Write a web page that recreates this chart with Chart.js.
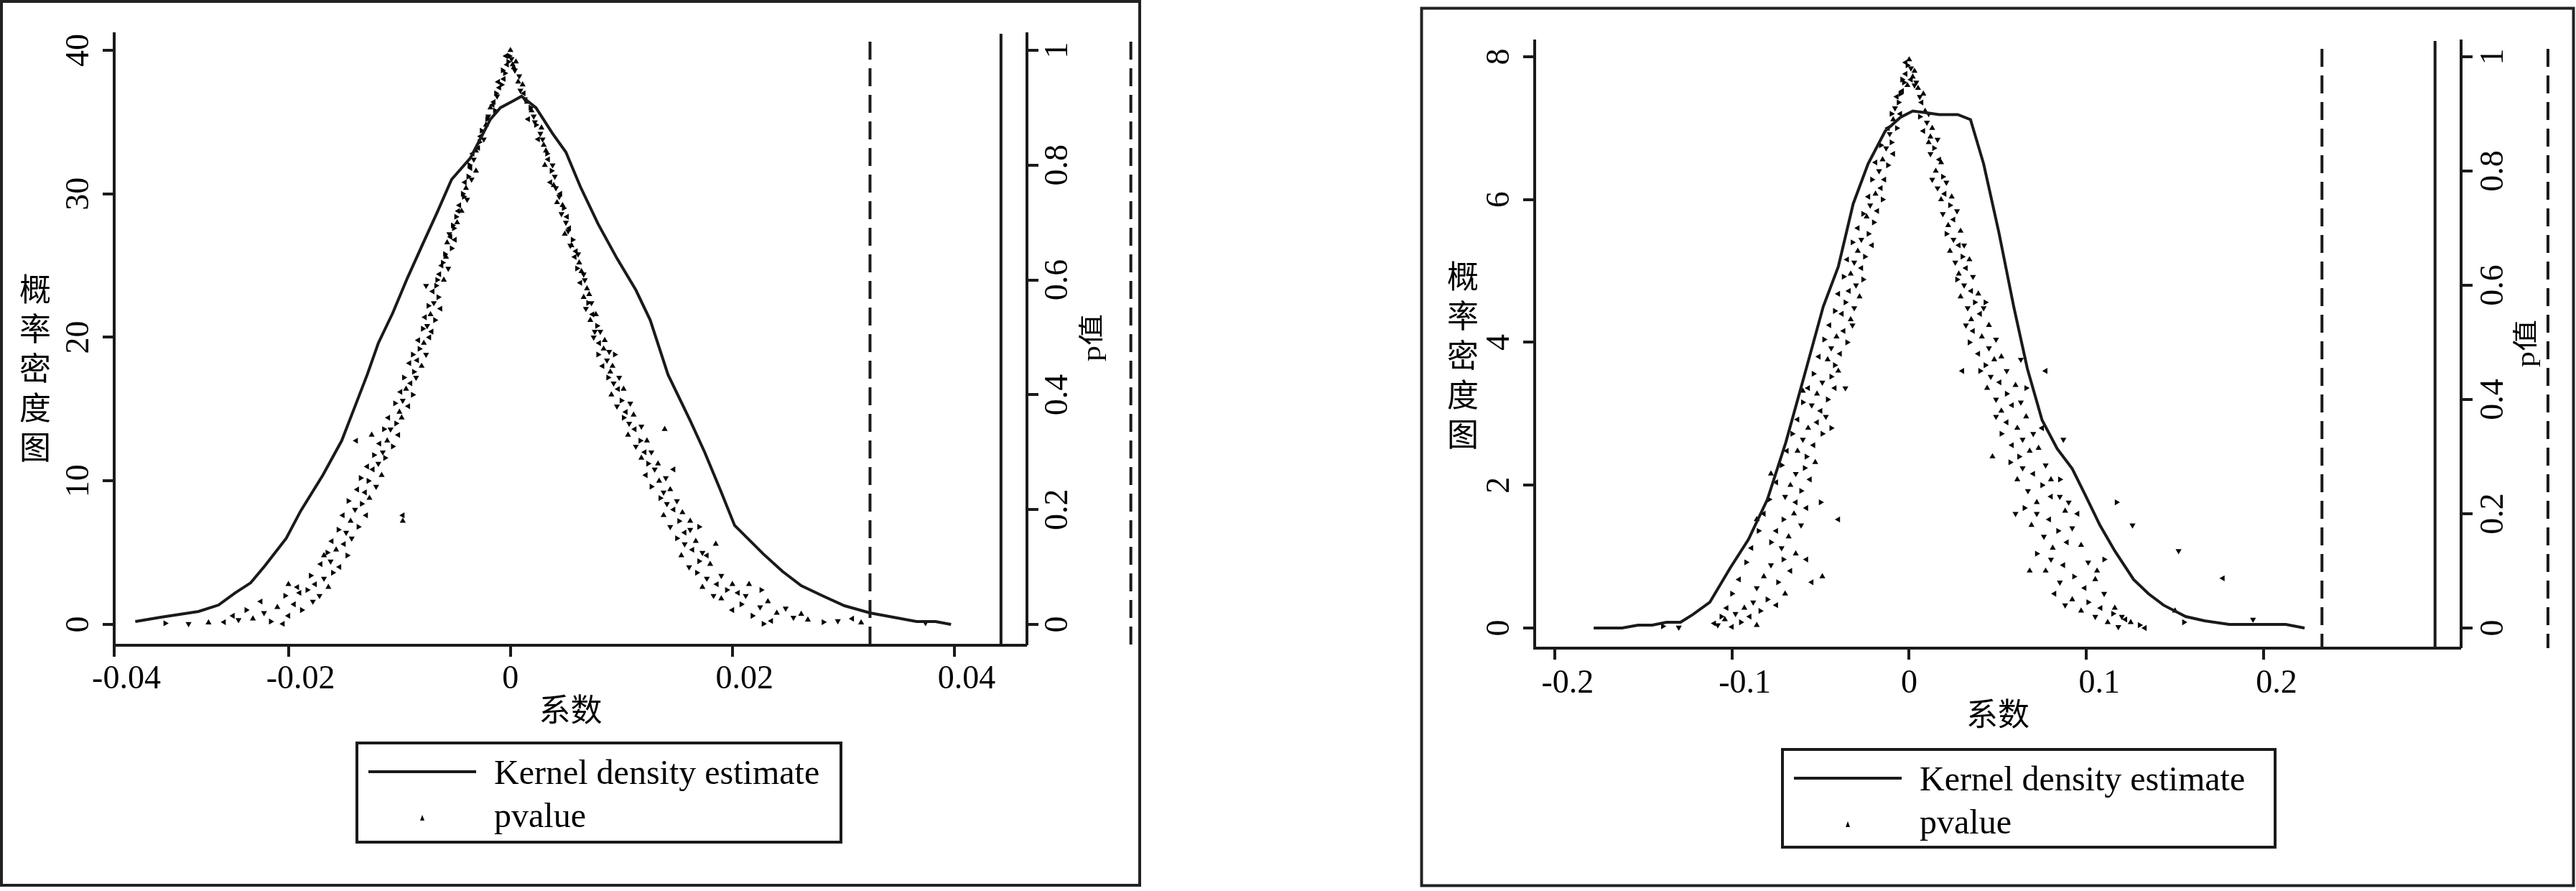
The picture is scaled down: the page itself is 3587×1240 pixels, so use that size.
<!DOCTYPE html>
<html>
<head>
<meta charset="utf-8">
<script src="https://cdn.jsdelivr.net/npm/chart.js@4/dist/chart.umd.min.js"></script>
<style>
  html, body { margin: 0; padding: 0; background: #fff; }
  body { width: 3587px; height: 1240px; position: relative; overflow: hidden; }
  canvas { position: absolute; top: 0; }
</style>
</head>
<body>
<canvas id="left" width="1590" height="1240" style="left:0px"></canvas>
<canvas id="right" width="1612" height="1240" style="left:1975px"></canvas>
<script>
// ================= DATA =================
const seriesLabels = ['Kernel density estimate', 'pvalue'];
const xTitle = '系数';
const yTitle = '概率密度图';
const pTitle = 'p值';

// ---- left panel ----
const xTicksLeft = [-0.04, -0.02, 0, 0.02, 0.04];
const xLabelsLeft = ['-0.04', '-0.02', '0', '0.02', '0.04'];
const yTicksLeft = [0, 10, 20, 30, 40];
const yLabelsLeft = ['0', '10', '20', '30', '40'];
const pTicks = [0, 0.2, 0.4, 0.6, 0.8, 1];
const pLabels = ['0', '0.2', '0.4', '0.6', '0.8', '1'];

const kdeCoefLeft = [-0.0338,-0.0315,-0.0281,-0.0263,-0.0248,-0.0234,-0.0221,-0.0202,-0.0189,-0.0169,-0.0152,-0.0141,-0.0129,-0.0119,-0.0106,-0.0093,-0.0079,-0.0066,-0.0053,-0.0036,-0.0018,-0.0009,0.0003,0.0010,0.0023,0.0038,0.0050,0.0063,0.0079,0.0096,0.0113,0.0126,0.0142,0.0162,0.0175,0.0189,0.0202,0.0215,0.0228,0.0245,0.0262,0.0281,0.0301,0.0324,0.0345,0.0366,0.0383,0.0397];
const kdeDensityLeft = [0.2,0.5,0.9,1.35,2.2,2.9,4.1,6.0,7.9,10.4,12.8,15.0,17.4,19.6,21.7,24.1,26.5,28.7,31.0,32.5,35.2,36.0,36.5,36.8,36.0,34.2,32.9,30.5,27.9,25.5,23.3,21.2,17.4,14.2,12.0,9.4,6.9,5.9,4.9,3.7,2.7,2.0,1.3,0.8,0.5,0.2,0.2,0.0];

const dashedLeft = [0.0324, 0.0559];
const solidLeft = [0.0442];

const pvalueLeft = [
[0.0000,1.00],[-0.0001,0.99],[0.0001,0.985],[-0.0003,0.975],[0.0003,0.97],[-0.0005,0.96],[0.0004,0.965],[-0.0006,0.95],[0.0007,0.945],[-0.0008,0.94],[0.0009,0.93],[-0.0010,0.935],[0.0002,0.975],[-0.0002,0.98],
[-0.0012,0.92],[-0.0015,0.91],[-0.0018,0.90],[-0.0014,0.895],[-0.0020,0.885],[0.0012,0.925],[0.0015,0.91],[0.0018,0.90],[0.0021,0.885],[0.0016,0.88],
[-0.0022,0.87],[-0.0026,0.86],[-0.0024,0.845],[-0.0029,0.83],[-0.0031,0.825],[0.0023,0.87],[0.0027,0.855],[0.0025,0.845],[0.0030,0.835],[0.0033,0.82],
[-0.0033,0.81],[-0.0036,0.795],[-0.0031,0.79],[-0.0038,0.78],[-0.0035,0.775],[0.0034,0.81],[0.0031,0.80],[0.0037,0.79],[0.0040,0.78],[0.0036,0.77],
[-0.0040,0.76],[-0.0043,0.75],[-0.0039,0.74],[-0.0046,0.73],[-0.0044,0.72],[-0.0049,0.71],[0.0041,0.76],[0.0045,0.75],[0.0042,0.735],[0.0048,0.725],[0.0046,0.715],[0.0051,0.71],
[-0.0048,0.70],[-0.0051,0.69],[-0.0055,0.68],[-0.0050,0.67],[-0.0057,0.665],[-0.0053,0.655],[0.0050,0.70],[0.0053,0.69],[0.0049,0.68],[0.0056,0.67],[0.0054,0.66],[0.0059,0.65],
[-0.0058,0.64],[-0.0061,0.63],[-0.0056,0.62],[-0.0064,0.61],[-0.0060,0.60],[-0.0067,0.59],[-0.0076,0.59],[0.0058,0.64],[0.0062,0.63],[0.0060,0.62],[0.0066,0.61],[0.0063,0.595],[0.0069,0.585],
[-0.0065,0.57],[-0.0069,0.56],[-0.0063,0.55],[-0.0072,0.54],[-0.0068,0.53],[-0.0075,0.52],[-0.0071,0.51],[0.0066,0.57],[0.0070,0.56],[0.0068,0.55],[0.0074,0.54],[0.0072,0.53],[0.0078,0.52],[0.0076,0.51],
[-0.0073,0.50],[-0.0078,0.49],[-0.0082,0.48],[-0.0076,0.47],[-0.0084,0.46],[-0.0080,0.45],[-0.0087,0.44],[0.0075,0.50],[0.0080,0.49],[0.0084,0.48],[0.0079,0.47],[0.0087,0.46],[0.0083,0.45],[0.0090,0.44],[0.0094,0.47],
[-0.0085,0.43],[-0.0090,0.42],[-0.0094,0.41],[-0.0088,0.40],[-0.0097,0.39],[-0.0092,0.38],[-0.0100,0.37],[0.0088,0.43],[0.0093,0.42],[0.0097,0.41],[0.0091,0.40],[0.0100,0.39],[0.0096,0.38],[0.0104,0.37],
[-0.0098,0.36],[-0.0103,0.35],[-0.0108,0.34],[-0.0101,0.33],[-0.0111,0.32],[-0.0106,0.31],[-0.0115,0.30],[-0.0139,0.32],[-0.0125,0.33],[0.0102,0.36],[0.0107,0.35],[0.0112,0.34],[0.0106,0.33],[0.0117,0.32],[0.0113,0.31],[0.0121,0.30],[0.0139,0.34],
[-0.0113,0.29],[-0.0119,0.28],[-0.0124,0.27],[-0.0116,0.26],[-0.0128,0.25],[-0.0121,0.24],[-0.0131,0.23],[0.0118,0.29],[0.0124,0.28],[0.0130,0.27],[0.0122,0.26],[0.0134,0.25],[0.0127,0.24],[0.0138,0.23],[0.0147,0.27],
[-0.0127,0.22],[-0.0134,0.21],[-0.0140,0.20],[-0.0130,0.19],[-0.0144,0.18],[-0.0137,0.17],[-0.0148,0.16],[-0.0097,0.19],[-0.0097,0.18],[0.0135,0.22],[0.0141,0.21],[0.0147,0.20],[0.0138,0.19],[0.0152,0.18],[0.0144,0.17],[0.0157,0.16],[0.0162,0.18],[0.0170,0.17],
[-0.0143,0.15],[-0.0150,0.14],[-0.0157,0.13],[-0.0147,0.12],[-0.0162,0.11],[-0.0154,0.10],[-0.0168,0.12],[0.0150,0.15],[0.0157,0.14],[0.0164,0.13],[0.0154,0.12],[0.0170,0.11],[0.0161,0.10],[0.0177,0.12],[0.0185,0.14],
[-0.0160,0.09],[-0.0168,0.08],[-0.0176,0.07],[-0.0164,0.065],[-0.0183,0.06],[-0.0172,0.05],[-0.0190,0.055],[-0.0200,0.07],[0.0168,0.09],[0.0177,0.08],[0.0186,0.07],[0.0173,0.065],[0.0195,0.06],[0.0183,0.05],[0.0205,0.055],[0.0215,0.07],[0.0226,0.06],
[-0.0178,0.04],[-0.0195,0.035],[-0.0210,0.03],[-0.0188,0.025],[-0.0222,0.02],[-0.0200,0.015],[-0.0232,0.01],[-0.0216,0.005],[-0.0245,0.008],[-0.0258,0.004],[-0.0272,0.003],[-0.0311,0.002],[-0.0290,0.001],[-0.0205,0.001],
[0.0190,0.045],[0.0208,0.035],[0.0225,0.03],[0.0200,0.025],[0.0240,0.02],[0.0218,0.015],[0.0255,0.012],[0.0235,0.006],[0.0268,0.008],[0.0282,0.004],[0.0295,0.006],[0.0308,0.01],[0.0316,0.003],[0.0228,0.001],[0.0374,0.003],
[-0.0004,0.99],[0.0005,0.98],[-0.0007,0.965],[0.0008,0.955],[-0.0011,0.945],[0.0011,0.94],[-0.0013,0.925],[0.0013,0.915],[-0.0016,0.905],[0.0019,0.895],[-0.0021,0.88],[0.0022,0.875],[-0.0027,0.85],[0.0028,0.865],[-0.0028,0.84],[0.0029,0.845],[-0.0034,0.82],[0.0032,0.825],[-0.0037,0.80],[0.0038,0.80],
[-0.0041,0.77],[0.0039,0.765],[-0.0042,0.745],[0.0044,0.745],[-0.0047,0.72],[0.0047,0.73],[-0.0052,0.695],[0.0052,0.685],[-0.0054,0.675],[0.0055,0.66],[-0.0059,0.645],[0.0061,0.645],[-0.0062,0.625],[0.0064,0.615],[-0.0066,0.60],[0.0067,0.60],[-0.0070,0.58],[0.0071,0.575],[-0.0074,0.555],[0.0073,0.56],
[-0.0077,0.535],[0.0077,0.54],[-0.0079,0.515],[0.0081,0.51],[-0.0083,0.495],[0.0085,0.495],[-0.0088,0.47],[0.0089,0.475],[-0.0091,0.455],[0.0092,0.45],[-0.0096,0.43],[0.0098,0.43],[-0.0099,0.405],[0.0102,0.41],[-0.0104,0.385],[0.0108,0.385],[-0.0110,0.36],[0.0111,0.365],[-0.0114,0.34],[0.0118,0.345],
[-0.0118,0.315],[0.0123,0.32],[-0.0123,0.295],[0.0127,0.30],[-0.0129,0.275],[0.0133,0.28],[-0.0135,0.255],[0.0140,0.255],[-0.0138,0.235],[0.0144,0.235],[-0.0146,0.215],[0.0150,0.215],[-0.0151,0.19],[0.0155,0.195],[-0.0155,0.165],[0.0162,0.165],[-0.0161,0.145],[0.0167,0.145],[-0.0165,0.125],[0.0173,0.125],
[-0.0171,0.105],[0.0180,0.105],[-0.0180,0.085],[0.0190,0.085],[-0.0192,0.065],[0.0200,0.07],[-0.0203,0.05],[0.0212,0.05],[-0.0225,0.04],[0.0232,0.04],[-0.0238,0.025],[0.0248,0.028],[-0.0250,0.015],[0.0262,0.018]
];

// ---- right panel ----
const xTicksRight = [-0.2, -0.1, 0, 0.1, 0.2];
const xLabelsRight = ['-0.2', '-0.1', '0', '0.1', '0.2'];
const yTicksRight = [0, 2, 4, 6, 8];
const yLabelsRight = ['0', '2', '4', '6', '8'];

const kdeCoefRight = [-0.178,-0.162,-0.153,-0.145,-0.137,-0.129,-0.122,-0.1125,-0.101,-0.0907,-0.080,-0.0696,-0.059,-0.0485,-0.040,-0.0316,-0.0232,-0.0135,-0.005,0.002,0.0084,0.0169,0.0274,0.0346,0.042,0.0506,0.059,0.0667,0.075,0.0835,0.092,0.0992,0.1076,0.116,0.1266,0.135,0.1435,0.156,0.1667,0.1806,0.194,0.2125,0.2231];
const kdeDensityRight = [0,0,0.04,0.04,0.08,0.08,0.19,0.36,0.84,1.24,1.8,2.6,3.55,4.5,5.06,5.94,6.5,6.96,7.15,7.24,7.22,7.19,7.19,7.12,6.5,5.54,4.5,3.63,2.91,2.51,2.23,1.87,1.44,1.08,0.68,0.48,0.32,0.16,0.1,0.05,0.05,0.05,0];

const dashedRight = [0.2329, 0.3604];
const solidRight = [0.2967];

const pvalueRight = [
[0.000,0.995],[-0.001,0.985],[0.001,0.98],[-0.002,0.97],[0.002,0.965],[-0.003,0.955],[0.003,0.95],[-0.004,0.94],[0.005,0.945],[-0.005,0.935],[0.006,0.93],[0.001,0.96],[-0.001,0.95],
[-0.006,0.92],[-0.008,0.91],[-0.005,0.90],[-0.009,0.89],[-0.007,0.875],[-0.011,0.865],[0.007,0.92],[0.009,0.905],[0.006,0.895],[0.010,0.885],[0.008,0.87],[0.012,0.86],
[-0.010,0.85],[-0.013,0.84],[-0.009,0.83],[-0.015,0.82],[-0.012,0.81],[-0.017,0.80],[-0.014,0.785],[0.011,0.85],[0.014,0.84],[0.012,0.83],[0.017,0.82],[0.015,0.80],[0.019,0.79],[0.013,0.785],
[-0.016,0.77],[-0.019,0.76],[-0.015,0.75],[-0.022,0.74],[-0.018,0.73],[-0.024,0.72],[-0.020,0.71],[0.016,0.77],[0.020,0.76],[0.018,0.75],[0.023,0.74],[0.019,0.725],[0.025,0.715],[0.022,0.705],
[-0.023,0.69],[-0.027,0.68],[-0.021,0.67],[-0.029,0.66],[-0.025,0.65],[-0.031,0.64],[-0.027,0.63],[-0.033,0.62],[0.021,0.69],[0.025,0.68],[0.028,0.67],[0.023,0.66],[0.030,0.65],[0.026,0.64],[0.032,0.63],[0.028,0.62],
[-0.026,0.61],[-0.030,0.60],[-0.034,0.59],[-0.028,0.58],[-0.036,0.57],[-0.031,0.56],[-0.038,0.55],[-0.033,0.54],[0.027,0.61],[0.031,0.60],[0.035,0.59],[0.029,0.58],[0.037,0.57],[0.033,0.56],[0.040,0.55],[0.035,0.54],[0.043,0.57],
[-0.032,0.53],[-0.037,0.52],[-0.041,0.51],[-0.035,0.50],[-0.044,0.49],[-0.039,0.48],[-0.046,0.47],[-0.042,0.46],[0.032,0.53],[0.036,0.52],[0.041,0.51],[0.034,0.50],[0.045,0.49],[0.039,0.48],[0.048,0.47],[0.043,0.46],[0.063,0.47],[0.077,0.45],
[-0.040,0.45],[-0.044,0.44],[-0.049,0.43],[-0.042,0.42],[-0.052,0.41],[-0.046,0.40],[-0.055,0.39],[-0.050,0.38],[-0.060,0.415],[0.040,0.45],[0.046,0.44],[0.051,0.43],[0.044,0.42],[0.055,0.41],[0.049,0.40],[0.058,0.39],[0.052,0.38],[0.066,0.42],
[-0.047,0.37],[-0.052,0.36],[-0.057,0.35],[-0.049,0.34],[-0.060,0.33],[-0.054,0.32],[-0.063,0.31],[-0.058,0.30],[0.049,0.37],[0.055,0.36],[0.061,0.35],[0.052,0.34],[0.064,0.33],[0.058,0.32],[0.068,0.31],[0.062,0.30],[0.087,0.33],[0.075,0.35],
[-0.053,0.29],[-0.059,0.28],[-0.064,0.27],[-0.056,0.26],[-0.067,0.25],[-0.061,0.24],[-0.070,0.23],[-0.064,0.22],[-0.078,0.27],[0.057,0.29],[0.064,0.28],[0.070,0.27],[0.061,0.26],[0.075,0.25],[0.067,0.24],[0.080,0.23],[0.072,0.22],[0.085,0.26],[0.090,0.22],
[-0.058,0.21],[-0.065,0.20],[-0.071,0.19],[-0.061,0.18],[-0.075,0.17],[-0.068,0.16],[-0.078,0.15],[-0.072,0.14],[-0.040,0.19],[-0.086,0.19],[0.065,0.21],[0.072,0.20],[0.079,0.19],[0.069,0.18],[0.084,0.17],[0.076,0.16],[0.089,0.15],[0.081,0.14],[0.117,0.22],[0.126,0.18],[0.095,0.20],
[-0.064,0.13],[-0.071,0.12],[-0.078,0.11],[-0.067,0.10],[-0.082,0.09],[-0.074,0.08],[-0.086,0.07],[-0.055,0.08],[-0.049,0.09],[0.072,0.13],[0.080,0.12],[0.087,0.11],[0.077,0.10],[0.093,0.09],[0.085,0.08],[0.099,0.07],[0.106,0.10],[0.110,0.12],[0.152,0.135],[0.177,0.087],
[-0.070,0.06],[-0.080,0.05],[-0.088,0.045],[-0.075,0.04],[-0.093,0.035],[-0.084,0.03],[-0.098,0.025],[-0.090,0.02],[-0.104,0.015],[-0.095,0.01],[-0.108,0.005],[-0.100,0.002],[-0.086,0.005],[-0.139,0.003],[-0.130,0.001],
[0.082,0.06],[0.092,0.05],[0.101,0.045],[0.088,0.04],[0.108,0.035],[0.097,0.03],[0.115,0.025],[0.105,0.02],[0.122,0.015],[0.112,0.01],[0.130,0.005],[0.118,0.002],[0.133,0.0],[0.150,0.03],[0.155,0.01],[0.194,0.015],
[-0.002,0.99],[0.003,0.975],[-0.004,0.96],[0.004,0.955],[-0.007,0.93],[0.008,0.935],[-0.010,0.90],[0.011,0.90],[-0.012,0.875],[0.013,0.875],[-0.016,0.845],[0.016,0.855],[-0.019,0.815],[0.018,0.815],[-0.021,0.785],[0.021,0.78],
[-0.023,0.755],[0.024,0.755],[-0.026,0.725],[0.027,0.73],[-0.029,0.70],[0.029,0.695],[-0.032,0.675],[0.031,0.67],[-0.035,0.645],[0.034,0.645],[-0.037,0.615],[0.036,0.615],[-0.040,0.585],[0.039,0.585],[-0.042,0.555],[0.042,0.56],
[-0.045,0.53],[0.045,0.53],[-0.048,0.505],[0.049,0.505],[-0.051,0.475],[0.052,0.475],[-0.054,0.445],[0.055,0.45],[-0.057,0.42],[0.060,0.425],[-0.060,0.395],[0.063,0.395],[-0.063,0.365],[0.066,0.37],[-0.066,0.34],[0.070,0.34],
[-0.069,0.31],[0.073,0.315],[-0.072,0.285],[0.077,0.285],[-0.075,0.255],[0.080,0.26],[-0.079,0.225],[0.085,0.23],[-0.082,0.20],[0.088,0.205],[-0.085,0.17],[0.092,0.175],[-0.089,0.14],[0.097,0.145],[-0.092,0.115],[0.101,0.115],
[-0.096,0.085],[0.105,0.085],[-0.100,0.06],[0.110,0.06],[-0.103,0.035],[0.116,0.035],[-0.106,0.02],[0.120,0.02],[-0.110,0.008],[0.125,0.01],[-0.044,0.35],[-0.036,0.42],[0.030,0.45],[0.047,0.30],[-0.050,0.22],[0.060,0.20],[-0.058,0.12],[0.068,0.10]
];

// ================= STYLE / LAYOUT =================
const INK = '#1a1a1a';
const FRAME = '#222';
const SERIF = '"Liberation Serif", "Times New Roman", serif';
const CJK = '"Noto Sans CJK SC", sans-serif';
const MIXED = '"Liberation Serif", "Noto Sans CJK SC", serif';

const panelDecor = {
  id: 'panelDecor',
  beforeDraw(chart, args, o) {
    const ctx = chart.ctx;
    ctx.save();
    ctx.fillStyle = '#fff';
    ctx.fillRect(0, 0, chart.width, chart.height);
    ctx.restore();
    const xs = chart.scales.x;
    const items = xs.getLabelItems(chart.chartArea);
    items.forEach(it => {
      if (!it._shifted && it.label !== '0') {
        it.options.translation[0] += o.xShift;
      }
      it._shifted = true;
    });
  },
  afterDraw(chart, args, o) {
    const ctx = chart.ctx;
    ctx.save();
    ctx.setTransform(1, 0, 0, 1, 0, 0);
    // outer frame
    ctx.strokeStyle = FRAME;
    ctx.lineWidth = 4;
    ctx.strokeRect(o.frameX, o.frameY, o.frameW, o.frameH);

    // vertical y title (upright stacked characters)
    ctx.fillStyle = '#000';
    ctx.font = '44px ' + CJK;
    ctx.textAlign = 'center';
    ctx.textBaseline = 'middle';
    const chars = Array.from(yTitle);
    const mid = (chars.length - 1) / 2;
    chars.forEach((ch, i) => ctx.fillText(ch, o.yTitleX, o.yTitleY + (i - mid) * 55));

    // right axis title rotated (reads bottom to top)
    ctx.save();
    ctx.translate(o.pTitleX, o.pTitleY);
    ctx.rotate(-Math.PI / 2);
    ctx.scale(1, 0.8);
    ctx.font = '44px ' + MIXED;
    ctx.fillText(pTitle, 0, 0);
    ctx.restore();

    // legend box
    const lx = o.legX, ly = o.legY;
    ctx.strokeStyle = INK;
    ctx.lineWidth = 4;
    ctx.strokeRect(lx, ly, o.legW, o.legH);
    ctx.beginPath();
    ctx.moveTo(lx + 16, ly + 40);
    ctx.lineTo(lx + 166, ly + 40);
    ctx.stroke();
    ctx.fillStyle = '#000';
    ctx.beginPath();
    ctx.moveTo(lx + 91, ly + 100);
    ctx.lineTo(lx + 94, ly + 108);
    ctx.lineTo(lx + 88, ly + 108);
    ctx.closePath();
    ctx.fill();
    ctx.font = '48px ' + SERIF;
    ctx.textAlign = 'left';
    ctx.textBaseline = 'alphabetic';
    ctx.fillText(chart.data.datasets[0].label, lx + 191, ly + 57);
    ctx.fillText(chart.data.datasets[1].label, lx + 191, ly + 117);
    ctx.restore();
  }
};

function makePanel(id, d, g) {
  const yTop = d.yTicks[d.yTicks.length - 1];
  const datasets = [
    {
      label: seriesLabels[0],
      data: d.kdeCoef.map((c, i) => ({ x: c, y: d.kdeDensity[i] })),
      showLine: true, borderColor: INK, borderWidth: 4, pointRadius: 0,
      tension: 0, yAxisID: 'y', xAxisID: 'x'
    },
    {
      label: seriesLabels[1],
      data: d.pvalues.map(([c, p]) => ({ x: c, y: p })),
      showLine: false, pointStyle: 'triangle', pointRadius: 4.8,
      rotation: ctx => (ctx.dataIndex % 4) * 90,
      backgroundColor: '#000', borderWidth: 0, yAxisID: 'p', xAxisID: 'x'
    }
  ];
  d.dashed.forEach(v => datasets.push({
    label: 'ref', data: [{ x: v, y: g.dashTop }, { x: v, y: g.yMin }],
    showLine: true, borderColor: INK, borderWidth: 4, borderDash: [25, 12],
    pointRadius: 0, yAxisID: 'y', xAxisID: 'x', clip: false
  }));
  d.solid.forEach(v => datasets.push({
    label: 'ref', data: [{ x: v, y: g.yMax }, { x: v, y: g.yMin }],
    showLine: true, borderColor: INK, borderWidth: 4,
    pointRadius: 0, yAxisID: 'y', xAxisID: 'x', clip: false
  }));

  const tickFont = { family: SERIF, size: 46 };
  const grid = {
    display: true, drawOnChartArea: false, drawTicks: true,
    tickLength: 16, tickWidth: 4, tickColor: INK, lineWidth: 0
  };
  const border = { display: true, color: INK, width: 4 };

  return new Chart(document.getElementById(id), {
    type: 'scatter',
    data: { datasets },
    options: {
      responsive: false, animation: false, devicePixelRatio: 1, events: [],
      layout: { padding: { top: g.top, left: 0, right: 0, bottom: 0 } },
      plugins: { legend: { display: false }, tooltip: { enabled: false }, panelDecor: g },
      scales: {
        x: {
          type: 'linear', position: 'bottom', min: g.xMin, max: g.xMax, bounds: 'data',
          afterFit: s => { s.height = g.xHeight; },
          afterBuildTicks: s => { s.ticks = d.xTicks.map(v => ({ value: Math.min(s.max, Math.max(s.min, v)) })); },
          ticks: { callback: (v, i) => d.xLabels[i], font: tickFont, color: '#000', padding: g.xPad,
                   minRotation: 0, maxRotation: 0, autoSkip: false },
          grid, border,
          title: { display: true, text: xTitle, color: '#000', font: { family: CJK, size: 44 },
                   padding: { top: 0, bottom: g.xTitlePad } }
        },
        y: {
          type: 'linear', position: 'left', min: g.yMin, max: g.yMax, bounds: 'data',
          afterFit: s => { s.width = g.yWidth; },
          afterBuildTicks: s => { s.ticks = d.yTicks.map(v => ({ value: v })); },
          ticks: { callback: (v, i) => d.yLabels[i], font: tickFont, color: '#000', padding: g.yPad,
                   minRotation: 90, maxRotation: 90, crossAlign: 'center', autoSkip: false },
          grid, border
        },
        p: {
          type: 'linear', position: 'right', min: g.yMin / yTop, max: g.yMax / yTop, bounds: 'data',
          afterFit: s => { s.width = g.pWidth; },
          afterBuildTicks: s => { s.ticks = pTicks.map(v => ({ value: v })); },
          ticks: { callback: (v, i) => pLabels[i], font: tickFont, color: '#000', padding: g.pPad,
                   minRotation: 90, maxRotation: 90, crossAlign: 'center', autoSkip: false },
          grid, border
        }
      }
    },
    plugins: [panelDecor]
  });
}

makePanel('left', {
  xTicks: xTicksLeft, xLabels: xLabelsLeft, yTicks: yTicksLeft, yLabels: yLabelsLeft,
  kdeCoef: kdeCoefLeft, kdeDensity: kdeDensityLeft, pvalues: pvalueLeft,
  dashed: dashedLeft, solid: solidLeft
}, {
  top: 47, yWidth: 159, pWidth: 160, xHeight: 342,
  xMin: -0.0357, xMax: 0.04654, yMin: -1.452, yMax: 41.15, dashTop: 40.6,
  xPad: 4, xShift: 17, yPad: 9.5, pPad: -1, xTitlePad: 226,
  frameX: 2, frameY: 2, frameW: 1585, frameH: 1230,
  yTitleX: 49, yTitleY: 512, pTitleX: 1523, pTitleY: 470,
  legX: 497, legY: 1034, legW: 674, legH: 138
});

makePanel('right', {
  xTicks: xTicksRight, xLabels: xLabelsRight, yTicks: yTicksRight, yLabels: yLabelsRight,
  kdeCoef: kdeCoefRight, kdeDensity: kdeDensityRight, pvalues: pvalueRight,
  dashed: dashedRight, solid: solidRight
}, {
  top: 57, yWidth: 162, pWidth: 160, xHeight: 338,
  xMin: -0.2113, xMax: 0.3114, yMin: -0.282, yMax: 8.221, dashTop: 8.11,
  xPad: 6, xShift: 18, yPad: 21, pPad: 1, xTitlePad: 220,
  frameX: 4.5, frameY: 11.5, frameW: 1604, frameH: 1221,
  yTitleX: 62, yTitleY: 494, pTitleX: 1545, pTitleY: 478,
  legX: 507, legY: 1043, legW: 686, legH: 136
});
</script>
</body>
</html>
